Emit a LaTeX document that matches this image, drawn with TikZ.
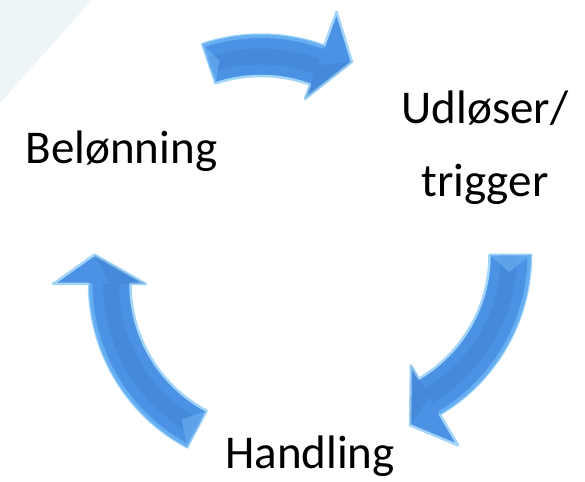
\documentclass[tikz,border=0pt]{standalone}
\usepackage{fontspec}
\setmainfont{Carlito}
\definecolor{arrowblue}{HTML}{4B92E4}
\definecolor{arrowdark}{HTML}{3A78C4}
\definecolor{arrowlight}{HTML}{66AEF2}
\definecolor{arrowglow}{HTML}{A3D5F8}
\definecolor{bgtint}{HTML}{EEF5F8}
\tikzset{
  labeltext/.style={font=\fontsize{47}{73}\selectfont, inner sep=0pt, text=black},
  arrowbody/.style={fill=arrowblue, draw=arrowglow, line width=2.5pt, line join=round},
}
% #1,#2 centre; #3 tail angle; #4 head base angle; #5 tip angle
\newcommand\cycpath[3]{(#1:185) arc[start angle=#1,end angle=#2,radius=185] -- (#2:221) -- (#3:182) -- (#2:128) -- (#2:143.5) arc[start angle=#2,end angle=#1,radius=143.5] -- cycle}
\newcommand\cycarrow[5]{%
\begin{scope}[shift={(#1,#2)}]
  \pgfmathsetmacro\tailb{#3+0.10*(#4-#3)}
  \path[arrowbody] \cycpath{#3}{#4}{#5};
  \begin{scope}
    \clip \cycpath{#3}{#4}{#5};
    \draw[arrowlight, line width=7pt] (#3:185) arc[start angle=#3,end angle=#4,radius=185];
    \draw[arrowdark, opacity=0.3, line width=16pt] (#3:163) arc[start angle=#3,end angle=#4,radius=163];
    \fill[arrowdark, opacity=0.3] (#4:128) -- (#5:182) -- (#4:164) -- cycle;
    \fill[arrowlight, opacity=0.7] (#3:185) -- (#3:143.5) -- (\tailb:164) -- cycle;
  \end{scope}
\end{scope}}
\begin{document}
\begin{tikzpicture}[x=1pt,y=1pt]
  \useasboundingbox (0,0) rectangle (585,481);
  \fill[bgtint] (0,481) -- (92,481) -- (0,378) -- cycle;
  % arrows
  \cycarrow{261}{261.5}{108.5}{70}{60}
  \cycarrow{346}{226}{0}{-59.5}{-69.4}
  \cycarrow{274}{197}{-118}{-180}{-189.3}
  % labels
  \node[labeltext, anchor=base] (reward) at (121.5,317) {Belønning};
  \node[labeltext, anchor=base, align=center] (trigger) at (485,284) {Udløser/\\trigger};
  \node[labeltext, anchor=base] (action) at (310,13) {Handling};
\end{tikzpicture}
\end{document}
